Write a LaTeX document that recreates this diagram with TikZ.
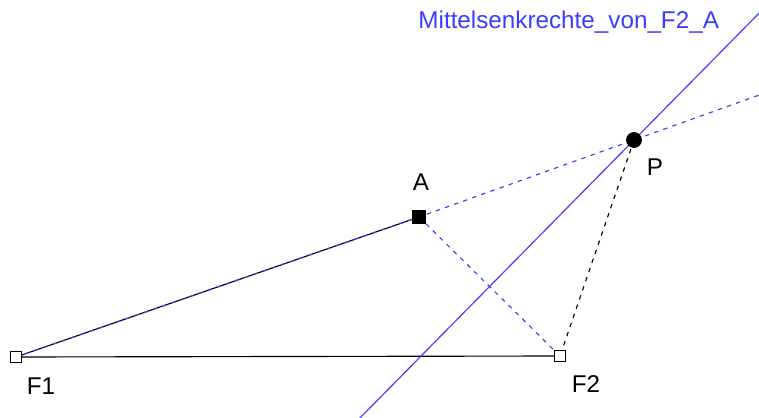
\documentclass[tikz,border=0pt]{standalone}
\usepackage{fontspec}
\setmainfont{Liberation Sans}
\definecolor{geoblue}{RGB}{60,60,255}
\begin{document}
\begin{tikzpicture}[x=0.02cm, y=-0.02cm, line width=0.65pt,
    font=\fontsize{13.8}{16}\selectfont,
    openpt/.style={draw=black, fill=white, line width=0.75pt, minimum size=6.5pt, inner sep=0pt},
    fullpt/.style={fill=black, minimum size=7.5pt, inner sep=0pt},
    bluedash/.style={draw=geoblue, dash pattern=on 2.5pt off 3pt},
    blackdash/.style={draw=black, dash pattern=on 2.5pt off 3pt}]
  \useasboundingbox (0,0) rectangle (759,418);
  \clip (0,0) rectangle (759,418);
  % free ends of the long lines
  \coordinate (rayend) at (790,84);
  \coordinate (bisA) at (355,423);
  \coordinate (bisB) at (775,-3);
  \coordinate (F1c) at (16,357);
  \coordinate (F2c) at (560,356);
  \coordinate (Ac) at (419,217);
  \coordinate (Pc) at (634,140);
  % lines
  \draw[black] (F1c) -- (F2c);
  \draw[black] (F1c) -- (Ac);
  \draw[bluedash] (F1c) -- (Ac) -- (rayend);
  \draw[bluedash] (Ac) -- (F2c);
  \draw[blackdash] (Pc) -- (F2c);
  \draw[geoblue] (bisA) -- (bisB);
  % points
  \node[openpt] (F1) at (F1c) {};
  \node[openpt] (F2) at (F2c) {};
  \node[fullpt] (A) at (Ac) {};
  \node[fullpt, circle, minimum size=9pt] (P) at (Pc) {};
  % labels
  \node (labF1) at (41,386) {F1};
  \node (labF2) at (586,384) {F2};
  \node (labA) at (421,182) {A};
  \node (labP) at (655,167) {P};
  \node[text=geoblue, anchor=west] (labMS) at (412,22) {Mittelsenkrechte\_von\_F2\_A};
\end{tikzpicture}
\end{document}
